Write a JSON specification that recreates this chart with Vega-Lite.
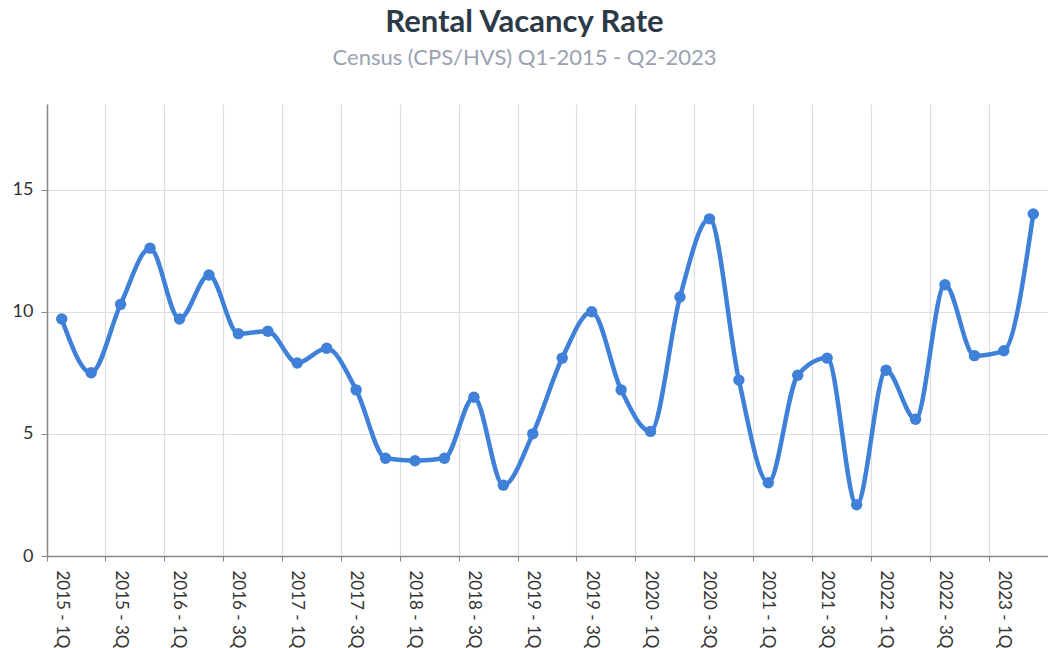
{
  "$schema": "https://vega.github.io/schema/vega-lite/v6.json",
  "width": 1001,
  "height": 452,
  "autosize": "none",
  "padding": {"left": 47, "top": 104, "right": 0, "bottom": 92},
  "background": "white",
  "config": {"font": "Lato", "view": {"stroke": null}},
  "title": {
    "text": "Rental Vacancy Rate",
    "subtitle": "Census (CPS/HVS) Q1-2015 - Q2-2023",
    "anchor": "middle",
    "frame": "group",
    "dx": -23,
    "offset": 34,
    "font": "Lato",
    "fontSize": 31,
    "fontWeight": "bold",
    "color": "#2c3a48",
    "subtitleFont": "Lato",
    "subtitleFontSize": 22,
    "subtitleColor": "#9aa2b2",
    "subtitlePadding": 9
  },
  "data": {
    "values": [
      {"q": "2015 - 1Q", "v": 9.7},
      {"q": "2015 - 2Q", "v": 7.5},
      {"q": "2015 - 3Q", "v": 10.3},
      {"q": "2015 - 4Q", "v": 12.6},
      {"q": "2016 - 1Q", "v": 9.7},
      {"q": "2016 - 2Q", "v": 11.5},
      {"q": "2016 - 3Q", "v": 9.1},
      {"q": "2016 - 4Q", "v": 9.2},
      {"q": "2017 - 1Q", "v": 7.9},
      {"q": "2017 - 2Q", "v": 8.5},
      {"q": "2017 - 3Q", "v": 6.8},
      {"q": "2017 - 4Q", "v": 4.0},
      {"q": "2018 - 1Q", "v": 3.9},
      {"q": "2018 - 2Q", "v": 4.0},
      {"q": "2018 - 3Q", "v": 6.5},
      {"q": "2018 - 4Q", "v": 2.9},
      {"q": "2019 - 1Q", "v": 5.0},
      {"q": "2019 - 2Q", "v": 8.1},
      {"q": "2019 - 3Q", "v": 10.0},
      {"q": "2019 - 4Q", "v": 6.8},
      {"q": "2020 - 1Q", "v": 5.1},
      {"q": "2020 - 2Q", "v": 10.6},
      {"q": "2020 - 3Q", "v": 13.8},
      {"q": "2020 - 4Q", "v": 7.2},
      {"q": "2021 - 1Q", "v": 3.0},
      {"q": "2021 - 2Q", "v": 7.4},
      {"q": "2021 - 3Q", "v": 8.1},
      {"q": "2021 - 4Q", "v": 2.1},
      {"q": "2022 - 1Q", "v": 7.6},
      {"q": "2022 - 2Q", "v": 5.6},
      {"q": "2022 - 3Q", "v": 11.1},
      {"q": "2022 - 4Q", "v": 8.2},
      {"q": "2023 - 1Q", "v": 8.4},
      {"q": "2023 - 2Q", "v": 14.0}
    ]
  },
  "mark": {
    "type": "line",
    "interpolate": "monotone",
    "strokeWidth": 4.5,
    "color": "#3f80d8",
    "point": {"filled": true, "size": 130, "color": "#3f80d8", "opacity": 1}
  },
  "encoding": {
    "x": {
      "field": "q",
      "type": "ordinal",
      "sort": null,
      "scale": {"type": "band", "paddingInner": 0, "paddingOuter": 0},
      "axis": {
        "title": null,
        "bandPosition": 0,
        "values": ["2015 - 1Q", "2015 - 3Q", "2016 - 1Q", "2016 - 3Q", "2017 - 1Q", "2017 - 3Q", "2018 - 1Q", "2018 - 3Q", "2019 - 1Q", "2019 - 3Q", "2020 - 1Q", "2020 - 3Q", "2021 - 1Q", "2021 - 3Q", "2022 - 1Q", "2022 - 3Q", "2023 - 1Q"],
        "labelAngle": 90,
        "labelAlign": "left",
        "labelBaseline": "middle",
        "labelFontSize": 17,
        "labelColor": "#333333",
        "labelPadding": 9,
        "grid": true,
        "gridColor": "#dddddd",
        "gridWidth": 1.2,
        "domainColor": "#888888",
        "domainWidth": 1.5,
        "tickColor": "#888888",
        "tickSize": 5,
        "labelFlush": false,
        "labelOverlap": false
      }
    },
    "y": {
      "field": "v",
      "type": "quantitative",
      "scale": {"domain": [0, 18.5], "nice": false},
      "axis": {
        "title": null,
        "values": [0, 5, 10, 15],
        "labelFontSize": 18,
        "labelColor": "#333333",
        "labelPadding": 8,
        "grid": true,
        "gridColor": "#dddddd",
        "gridWidth": 1.2,
        "domainColor": "#888888",
        "domainWidth": 1.5,
        "tickColor": "#888888",
        "tickSize": 6
      }
    }
  }
}
